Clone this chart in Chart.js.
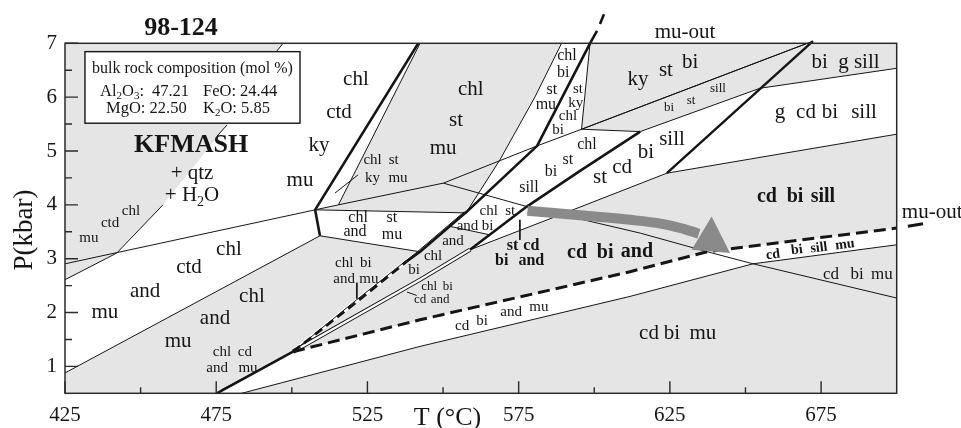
<!DOCTYPE html>
<html>
<head>
<meta charset="utf-8">
<script src="https://cdn.jsdelivr.net/npm/chart.js@4.4.1/dist/chart.umd.min.js"></script>
<style>
  html, body { margin: 0; padding: 0; background: #ffffff; }
  canvas { display: block; }
</style>
</head>
<body>
<canvas id="chart" width="961" height="428"></canvas>
<script>
// ---- Axis ticks (T in °C, P in kbar) ----
const tempTicks = [425, 475, 525, 575, 625, 675];
const tempMinorTicks = [450, 500, 550, 600, 650];
const pressureTicks = [1, 2, 3, 4, 5, 6, 7];
const pressureMinorTicks = [1.5, 2.5, 3.5, 4.5, 5.5, 6.5];

// ---- Fields that are left white (all other fields are shaded) [T, P] ----
const fieldWhiteWest = [[425,0.878],[425,2.609],[442.1,3.104],[457.4,4.0],[478.6,5.484],[497.1,7],[542.4,7],[515.4,4.0],[507.7,3.907],[509.3,3.425]];
const fieldWhiteCentre = [[589.2,7],[598.6,7],[595.8,5.404],[615.2,5.36],[595.3,4.631],[577.7,3.968],[565.5,3.443],[552.3,3.6],[542.4,3.128],[509.3,3.425],[507.7,3.907],[557.8,3.851],[568.8,4.835],[580.4,6.004]];
const fieldWhiteEast = [[615.2,5.36],[654.8,6.165],[700,6.536],[700,5.312],[624.0,4.588],[588.7,3.814],[558.9,3.165],[577.7,3.968],[595.3,4.631]];
const fieldWhiteStrip = [[475.2,0.5],[500.4,1.273],[542.4,1.866],[611.8,2.757],[637.3,3.13],[700,3.568],[700,3.258],[652.5,2.905],[611.8,2.299],[542.4,1.371],[483.4,0.5]];

// ---- Thin field boundaries [T, P] ----
const ctdOutLow = [[425,2.609],[442.1,3.104],[457.4,4.0]];
const ctdOutMid = [[475.3,5.28],[478.6,5.484]];
const ctdOutTop = [[494.8,6.84],[497.1,7]];
const alSilicateLine = [[425,2.905],[507.7,3.907],[515.4,4.0],[550.1,4.403],[581.1,5.095],[595.8,5.404],[672.3,7.04]];
const ctdAndLine = [[425,0.878],[509.3,3.425]];
const chlAndBase = [[509.3,3.425],[542.4,3.128]];
const chlAndTop = [[507.7,3.907],[557.8,3.851]];
const kyStLine = [[515.4,4.0],[542.4,7]];
const chlStLine = [[557.8,3.87],[568.8,4.835],[580.4,6.004],[589.2,7]];
const kyBiLine = [[598.6,7],[595.8,5.404]];
const kyBiBase = [[595.8,5.404],[615.2,5.36]];
const gSillLine = [[615.2,5.36],[654.8,6.165],[700,6.536]];
const cdSillLine = [[558.9,3.165],[588.7,3.814],[624.0,4.588],[700,5.312]];
const andSillLine = [[550.1,4.403],[577.7,3.968],[615.2,3.475],[637.3,3.13],[652.5,2.905],[700,2.269]];
const muBiLine = [[483.4,0.5],[542.4,1.371],[611.8,2.299],[652.5,2.905],[700,3.258]];
const chlStBiLine = [[552.3,3.6],[565.5,3.443]];
const leaderKy = [[514.3,4.22],[521.9,4.557]];
const leaderStCd = [[575.4,3.722],[575.4,3.35]];
const leaderChlBiMu = [[521.5,2.553],[521.5,2.26]];
const leaderChlBiCd = [[538.1,2.38],[541.3,2.317]];
const chlCdThin = [[476.6,0.56],[500.4,1.273]];

// ---- Heavy reaction lines [T, P] ----
const kyAndLine = [[509.3,3.425],[507.7,3.907],[541.8,7]];
const chlOutLow = [[475.2,0.5],[500.4,1.273]];
const chlOutSolid = [[538,2.95],[542.4,3.128],[557.8,3.87],[581.1,5.095],[598.6,7],[600.9,7.23]];
const chlOutDashed = [[500.4,1.273],[521.5,2.2],[538,2.95]];
const chlOutThin = [[500.4,1.273],[520.6,2.2],[541.5,3.128],[557.0,3.87]];
const chlOutGap = [[500.4,1.273],[521.0,2.2],[542.0,3.128]];
const chlOutTail = [[601.9,7.36],[603.2,7.54]];
const stOutSolid = [[558.9,3.165],[577.7,3.968],[595.3,4.631],[615.2,5.36]];
const stOutDouble = [[500.4,1.273],[542.4,2.609],[558.9,3.165]];
const gInLine = [[624.0,4.588],[672.3,7.04]];
const muOutLine = [[500.4,1.273],[542.4,1.866],[611.8,2.757],[637.3,3.13],[700,3.568]];
const muOutTail = [[703.7,3.601],[708.7,3.647]];

// ---- P–T path ----
const pathBody = [[577.9,3.89],[595.3,3.805],[611.8,3.722],[622.4,3.647],[630.0,3.545],[634.6,3.462]];
const pathHead = [[638.8,3.783],[644.9,3.104],[632.2,3.165]];

// ---- Field labels: text, T, P ----
const labelsSmallTL = [['chl',446.8,3.89],['ctd',439.9,3.67],['mu',432.9,3.39]];
const labelsLarge = [
  ['chl',521.2,6.32],['ctd',515.6,5.71],['ky',509.0,5.11],['mu',502.7,4.46],
  ['chl',559.2,6.15],['st',554.3,5.56],['mu',550.0,5.04],
  ['ky',614.5,6.32],['st',623.7,6.49],['bi',631.7,6.65],
  ['bi',674.5,6.65],['g sill',687.5,6.65],
  ['g',661.4,5.72],['cd',670.0,5.72],['bi',677.9,5.72],['sill',689.2,5.72],
  ['st',601.9,4.50],['cd',609.2,4.70],['bi',617.1,4.98],['sill',625.7,5.21],
  ['chl',479.2,3.18],['ctd',466.0,2.83],['and',451.5,2.39],['mu',438.2,2.00],
  ['chl',486.8,2.29],['and',474.6,1.89],['mu',462.4,1.46],
  ['cd',618.1,1.62],['bi',625.7,1.62],['mu',635.9,1.62]
];
const labelsMedium = [
  ['chl',526.7,4.84],['st',533.7,4.84],['ky',526.7,4.49],['mu',535.1,4.49],
  ['st',594.6,6.15],['ky',593.9,5.89],['chl',591.3,5.65],['bi',588.0,5.39],
  ['chl',565.1,3.89],['st',572.2,3.89],['and',558.1,3.61],['bi',564.7,3.61],
  ['and',553.3,3.33],['chl',546.7,3.05],['bi',540.4,2.78],
  ['chl',517.3,2.92],['bi',524.5,2.92],['and',517.3,2.63],['mu',525.5,2.63],
  ['chl',476.9,1.27],['cd',484.5,1.27],['and',475.3,0.96],['mu',485.5,0.96],
  ['cd',556.3,1.74],['bi',562.9,1.85],['and',572.5,2.00],['mu',581.7,2.11]
];
const labelsMedium16 = [
  ['chl',591.0,6.76],['bi',589.7,6.45],['st',586.0,6.13],['mu',584.0,5.86],
  ['chl',597.6,5.11],['st',591.3,4.83],['bi',585.7,4.61],['sill',578.4,4.32],
  ['chl',521.9,3.76],['st',533.1,3.76],['and',520.9,3.50],['mu',533.1,3.44]
];
const labelsSmall = [
  ['bi',624.7,5.80],['st',632.0,5.93],['sill',640.9,6.15],
  ['chl',545.4,2.48],['bi',551.6,2.48],['cd',542.4,2.24],['and',549.0,2.24]
];
const labelsMid17 = [['cd',678.3,2.70],['bi',686.9,2.70],['mu',695.1,2.70]];
const labelsBoldSmall = [['st',573.0,3.24],['cd',579.2,3.24],['bi',569.4,2.96],['and',579.2,2.96]];
const labelsBoldLarge = [
  ['cd',594.3,3.11],['bi',603.6,3.11],['and',614.1,3.13],
  ['cd',657.1,4.15],['bi',666.4,4.15],['sill',675.6,4.15]
];
const labelsBoldTilted = [['cd',659.1,3.07],['bi',667.0,3.16],['sill',674.3,3.20],['mu',682.9,3.26]];

const INK = '#151515';
const SHADE = '#e5e5e5';
const PATH_GREY = '#8a8a8a';
const SERIF = "'Liberation Serif','Times New Roman',serif";

const toXY = arr => arr.map(p => ({ x: p[0], y: p[1] }));
const datasets = [];

function addField(arr, color, order) {
  datasets.push({
    data: toXY(arr.concat([arr[0]])), showLine: true, fill: 'shape',
    backgroundColor: color, borderColor: 'rgba(0,0,0,0)', borderWidth: 0,
    pointRadius: 0, order: order
  });
}
function addLine(arr, width, extra) {
  datasets.push(Object.assign({
    data: toXY(arr), showLine: true, fill: false, borderColor: INK,
    borderWidth: width, pointRadius: 0, tension: 0, order: 50,
    borderCapStyle: 'butt', borderJoinStyle: 'round'
  }, extra || {}));
}

[fieldWhiteWest, fieldWhiteCentre, fieldWhiteEast, fieldWhiteStrip].forEach(f => addField(f, '#ffffff', 100));

[ctdOutLow, ctdOutMid, ctdOutTop, alSilicateLine, ctdAndLine, chlAndBase, chlAndTop, kyStLine,
 chlStLine, kyBiLine, kyBiBase, gSillLine, cdSillLine, andSillLine, muBiLine, chlStBiLine,
 leaderKy, leaderStCd, leaderChlBiMu, leaderChlBiCd, chlCdThin].forEach(l => addLine(l, 1));
addLine(alSilicateLine.slice(-2), 1, { clip: false });

// double line: white gap between a fine line and the heavy dashed line
addLine(chlOutGap, 4, { borderColor: '#ffffff', order: 60 });
addLine(chlOutThin, 1);
addLine(stOutDouble, 4.2, { order: 40 });
addLine(stOutDouble, 2.2, { borderColor: '#ffffff', order: 39 });

addLine(kyAndLine, 2.6, { order: 20 });
addLine(chlOutLow, 2.6, { order: 20 });
addLine(chlOutSolid, 2.6, { order: 20, clip: false });
addLine(chlOutDashed, 2.8, { order: 20, borderDash: [9, 5] });
addLine(chlOutTail, 2.6, { order: 20, clip: false });
addLine(stOutSolid, 2.6, { order: 20 });
addLine(gInLine, 2.4, { order: 20, clip: false });
addLine(muOutLine, 3, { order: 20, borderDash: [12, 6] });
addLine(muOutTail, 3, { order: 20, clip: false });

addLine(pathBody, 10, { borderColor: PATH_GREY, tension: 0.4, order: 2 });
addField(pathHead, PATH_GREY, 1);

function drawParts(ctx, parts, x, y, size, align) {
  // parts: [text, isSubscript]
  const subSize = Math.round(size * 0.65);
  let total = 0;
  parts.forEach(([t, sub]) => {
    ctx.font = (sub ? subSize : size) + 'px ' + SERIF;
    total += ctx.measureText(t).width;
  });
  let cx = align === 'center' ? x - total / 2 : x;
  ctx.textAlign = 'left';
  parts.forEach(([t, sub]) => {
    ctx.font = (sub ? subSize : size) + 'px ' + SERIF;
    ctx.fillText(t, cx, sub ? y + size * 0.22 : y);
    cx += ctx.measureText(t).width;
  });
}

const decorations = {
  id: 'decorations',
  beforeDatasetsDraw(chart) {
    const { ctx, chartArea: a } = chart;
    ctx.save();
    ctx.fillStyle = SHADE;
    ctx.fillRect(a.left, a.top, a.right - a.left, a.bottom - a.top);
    ctx.restore();
  },
  afterDatasetsDraw(chart) {
    const { ctx, chartArea: a, scales } = chart;
    const X = v => scales.x.getPixelForValue(v);
    const Y = v => scales.y.getPixelForValue(v);
    ctx.save();
    ctx.fillStyle = INK;
    ctx.textBaseline = 'middle';
    ctx.textAlign = 'center';

    const put = (list, size, weight, rot) => {
      ctx.font = (weight || '') + ' ' + size + 'px ' + SERIF;
      list.forEach(([t, T, P]) => {
        if (rot) {
          ctx.save();
          ctx.translate(X(T), Y(P));
          ctx.rotate(rot);
          ctx.fillText(t, 0, 0);
          ctx.restore();
        } else {
          ctx.fillText(t, X(T), Y(P));
        }
      });
    };
    put(labelsSmallTL, 15);
    put(labelsLarge, 21);
    put(labelsMedium, 15);
    put(labelsMedium16, 16);
    put(labelsSmall, 13);
    put(labelsMid17, 17);
    put(labelsBoldSmall, 16, 'bold');
    put(labelsBoldLarge, 20, 'bold');
    put(labelsBoldTilted, 14, 'bold', -7 * Math.PI / 180);

    // system name and excess phases
    ctx.font = 'bold 26px ' + SERIF;
    ctx.fillText('KFMASH', X(466.7), Y(5.11));
    ctx.font = '21px ' + SERIF;
    ctx.fillText('+ qtz', X(467), Y(4.59));
    ctx.textBaseline = 'alphabetic';
    drawParts(ctx, [['+ H', false], ['2', true], ['O', false]], X(467), Y(4.20) + 7, 21, 'center');

    // mu-out labels
    ctx.font = '21px ' + SERIF;
    ctx.textAlign = 'left';
    ctx.fillText('mu-out', X(620), 38);
    ctx.fillText('mu-out', X(701.7), 218);

    // composition box
    const bx = X(431.6), by = Y(6.845), bw = X(502.7) - bx, bh = Y(5.516) - by;
    ctx.fillStyle = '#ffffff';
    ctx.fillRect(bx, by, bw, bh);
    ctx.strokeStyle = INK;
    ctx.lineWidth = 1.4;
    ctx.strokeRect(bx, by, bw, bh);
    ctx.fillStyle = INK;
    ctx.font = '16px ' + SERIF;
    ctx.textAlign = 'center';
    ctx.fillText('bulk rock composition (mol %)', bx + bw / 2, by + 21);
    drawParts(ctx, [['Al', false], ['2', true], ['O', false], ['3', true], [':', false]], bx + 15, by + 44, 16.5, 'left');
    ctx.font = '16.5px ' + SERIF; ctx.textAlign = 'left';
    ctx.fillText('47.21', bx + 67, by + 44);
    ctx.fillText('FeO: 24.44', bx + 118, by + 44);
    ctx.fillText('MgO: 22.50', bx + 21, by + 61);
    drawParts(ctx, [['K', false], ['2', true], ['O: 5.85', false]], bx + 118, by + 61, 16.5, 'left');

    // frame
    ctx.strokeStyle = '#2a2a2a';
    ctx.lineWidth = 1.5;
    ctx.strokeRect(a.left, a.top, a.right - a.left, a.bottom - a.top);

    // inward ticks
    ctx.lineWidth = 1.4;
    ctx.beginPath();
    tempTicks.forEach(v => { ctx.moveTo(X(v), a.bottom); ctx.lineTo(X(v), a.bottom - 12); });
    tempMinorTicks.forEach(v => { ctx.moveTo(X(v), a.bottom); ctx.lineTo(X(v), a.bottom - 6); });
    pressureTicks.forEach(v => { ctx.moveTo(a.left, Y(v)); ctx.lineTo(a.left + 13, Y(v)); });
    pressureMinorTicks.forEach(v => { ctx.moveTo(a.left, Y(v)); ctx.lineTo(a.left + 7, Y(v)); });
    ctx.stroke();

    // tick labels
    ctx.font = '21px ' + SERIF;
    ctx.textAlign = 'center';
    ctx.textBaseline = 'alphabetic';
    tempTicks.forEach(v => ctx.fillText(String(v), X(v), 421));
    ctx.textAlign = 'right';
    ctx.textBaseline = 'middle';
    pressureTicks.forEach(v => ctx.fillText(String(v), a.left - 8, Y(v)));

    // axis titles and sample name
    ctx.textBaseline = 'alphabetic';
    ctx.textAlign = 'center';
    ctx.font = '26px ' + SERIF;
    ctx.fillText('T (°C)', 447.5, 425);
    ctx.save();
    ctx.translate(32, 230);
    ctx.rotate(-Math.PI / 2);
    ctx.font = '27px ' + SERIF;
    ctx.fillText('P(kbar)', 0, 0);
    ctx.restore();
    ctx.font = 'bold 26px ' + SERIF;
    ctx.fillText('98-124', 181, 35);
    ctx.restore();
  }
};

new Chart(document.getElementById('chart'), {
  type: 'scatter',
  data: { datasets: datasets },
  options: {
    responsive: false,
    animation: false,
    devicePixelRatio: 1,
    events: [],
    layout: { padding: { left: 65, right: 64.3, top: 43.3, bottom: 34.7 } },
    scales: {
      x: { type: 'linear', min: 425, max: 700, display: false },
      y: { type: 'linear', min: 0.5, max: 7, display: false }
    },
    plugins: { legend: { display: false }, tooltip: { enabled: false } }
  },
  plugins: [decorations]
});
</script>
</body>
</html>
